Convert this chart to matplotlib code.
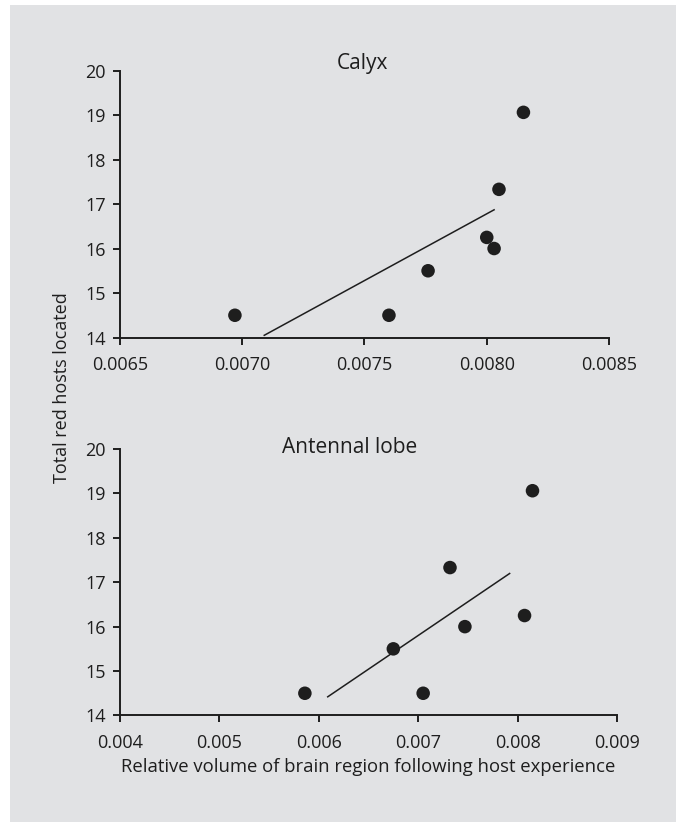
import matplotlib
matplotlib.use("Agg")
import matplotlib.pyplot as plt
from matplotlib.patches import Rectangle
import numpy as np

# hosts located (same individuals in both panels)
hosts = [14.5, 14.5, 15.5, 16.25, 16.0, 17.33, 19.06]
calyx_vol = [0.00697, 0.00760, 0.00776, 0.00800, 0.00803, 0.00805, 0.00815]
antennal_vol = [0.00586, 0.00705, 0.00675, 0.00807, 0.00747, 0.00732, 0.00815]

calyx_xticks = [0.0065, 0.0070, 0.0075, 0.0080, 0.0085]
antennal_xticks = [0.004, 0.005, 0.006, 0.007, 0.008, 0.009]
yticks = [14, 15, 16, 17, 18, 19, 20]

# x span of the drawn regression lines
calyx_fit_span = [0.00709, 0.00803]
antennal_fit_span = [0.00609, 0.00792]

plt.rcParams['font.family'] = ['Open Sans', 'DejaVu Sans']
bg = '#e1e2e4'
ink = '#1e1e1e'

fig = plt.figure(figsize=(6.76, 8.22), dpi=100, facecolor='white')
fig.patches.append(Rectangle((10 / 676, 0), 1, 1 - 5 / 822, transform=fig.transFigure,
                             facecolor=bg, edgecolor='none', zorder=-10))

ax1 = fig.add_axes([0.1775, 0.5894, 0.7234, 0.3248])
ax2 = fig.add_axes([0.1775, 0.1296, 0.7352, 0.3242])


def panel(ax, xs, xticks, xlabels, span, title, tx, ty):
    ax.set_facecolor('none')
    ax.scatter(xs, hosts, s=95, c=ink, edgecolors='none', zorder=3, clip_on=False)
    k, b = np.polyfit(xs, hosts, 1)
    sx = np.array(span)
    ax.plot(sx, k * sx + b, color=ink, lw=1.1, zorder=2)
    ax.set_xlim(xticks[0], xticks[-1])
    ax.set_ylim(14, 20)
    ax.set_xticks(xticks)
    ax.set_xticklabels(xlabels)
    ax.set_yticks(yticks)
    for s in ['top', 'right']:
        ax.spines[s].set_visible(False)
    for s in ['left', 'bottom']:
        ax.spines[s].set_linewidth(1.4)
        ax.spines[s].set_color(ink)
    ax.tick_params(direction='out', length=5, width=1.4, color=ink,
                   labelsize=13, labelcolor=ink)
    ax.tick_params(axis='x', pad=8)
    ax.tick_params(axis='y', pad=5)
    ax.text(tx, ty, title, transform=ax.transAxes, ha='center', va='center',
            fontsize=15, color=ink)


panel(ax1, calyx_vol, calyx_xticks, ['0.0065', '0.0070', '0.0075', '0.0080', '0.0085'],
      calyx_fit_span, 'Calyx', 0.496, 1.028)
panel(ax2, antennal_vol, antennal_xticks, ['0.004', '0.005', '0.006', '0.007', '0.008', '0.009'],
      antennal_fit_span, 'Antennal lobe', 0.463, 1.004)

ax2.set_xlabel('Relative volume of brain region following host experience',
               fontsize=13.3, color=ink, labelpad=5)
fig.text(62 / 676, 1 - 388 / 822, 'Total red hosts located', rotation=90,
         ha='center', va='center', fontsize=13, color=ink)

fig.savefig('out.png', dpi=100, facecolor=fig.get_facecolor())
